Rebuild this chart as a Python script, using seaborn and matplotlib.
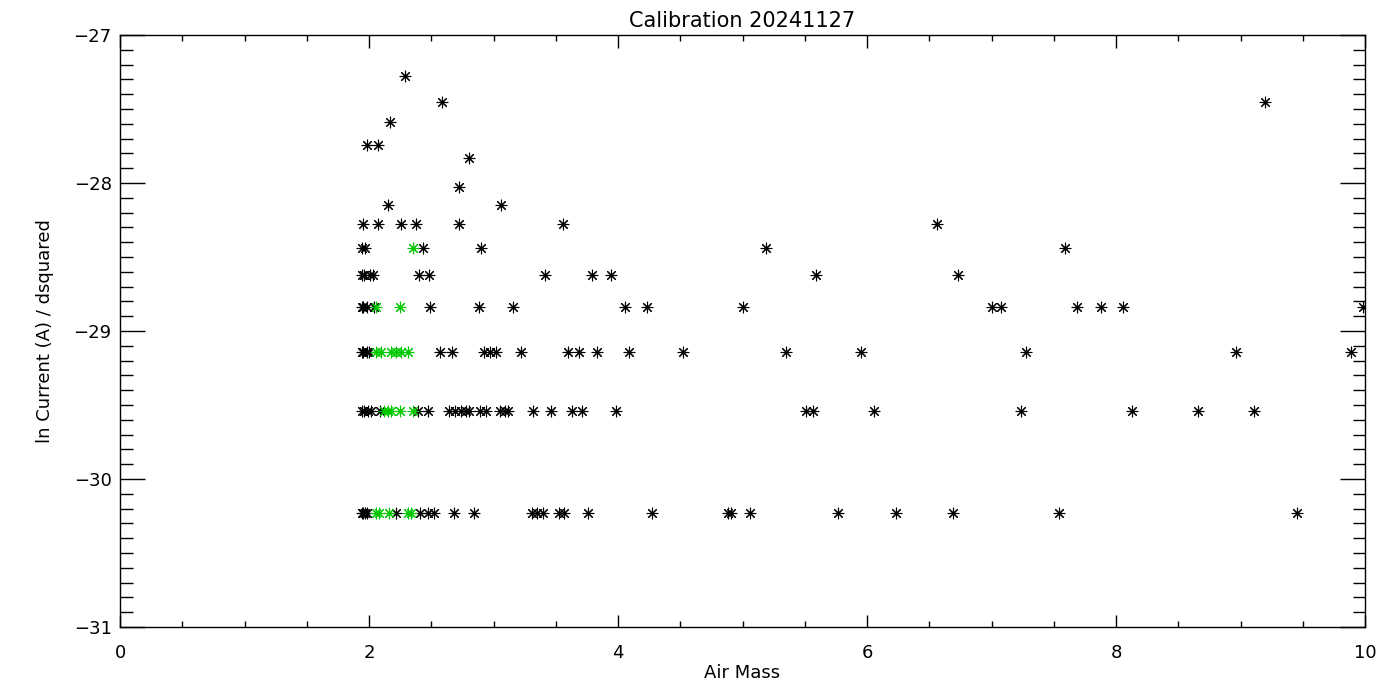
import numpy as np
import pandas as pd
import matplotlib
matplotlib.use("Agg")
import matplotlib.pyplot as plt
from matplotlib.ticker import MultipleLocator
import seaborn as sns

# ln current levels (values are quantised)
LEVELS = [-27.28, -27.45, -27.59, -27.74, -27.83, -28.03, -28.15, -28.28,
          -28.44, -28.62, -28.84, -29.14, -29.54, -30.23]

# black points: air mass per level (same order as LEVELS)
black_airmass = [
    [2.29],
    [2.59, 9.20],
    [2.17],
    [1.98, 2.07],
    [2.80],
    [2.72],
    [2.15, 3.06],
    [1.95, 2.07, 2.26, 2.38, 2.72, 3.56, 6.56],
    [1.94, 1.97, 2.43, 2.90, 5.19, 7.59],
    [1.94, 1.96, 2.01, 2.03, 2.40, 2.48, 3.41, 3.79, 3.94, 5.59, 6.73],
    [1.94, 1.95, 1.98, 2.04, 2.49, 2.88, 3.16, 4.06, 4.23, 5.00, 7.00, 7.08,
     7.69, 7.88, 8.06, 9.98],
    [1.94, 1.95, 1.98, 2.00, 2.57, 2.67, 2.92, 2.97, 3.02, 3.22, 3.60, 3.69,
     3.83, 4.09, 4.52, 5.35, 5.95, 7.28, 8.96, 9.89],
    [1.94, 1.96, 1.99, 2.02, 2.09, 2.39, 2.47, 2.64, 2.69, 2.74, 2.78, 2.80,
     2.89, 2.94, 3.05, 3.09, 3.12, 3.32, 3.46, 3.63, 3.71, 3.98, 5.51, 5.57,
     6.06, 7.24, 8.13, 8.66, 9.11],
    [1.94, 1.95, 1.97, 1.98, 2.22, 2.41, 2.47, 2.52, 2.68, 2.84, 3.31, 3.35,
     3.40, 3.53, 3.57, 3.76, 4.27, 4.88, 4.91, 5.06, 5.77, 6.23, 6.69, 7.54,
     9.45],
]

# green points: air mass per level
green_airmass = [
    [], [], [], [], [], [], [], [],
    [2.35],
    [],
    [2.06, 2.25],
    [2.06, 2.10, 2.18, 2.22, 2.26, 2.31],
    [2.12, 2.15, 2.18, 2.25, 2.35],
    [2.06, 2.08, 2.16, 2.31, 2.34],
]


def to_frame(airmass_by_level):
    rows = []
    for lvl, xs in zip(LEVELS, airmass_by_level):
        for x in xs:
            rows.append((x, lvl))
    return pd.DataFrame(rows, columns=["airmass", "lncur"])


df_black = to_frame(black_airmass)
df_green = to_frame(green_airmass)

sns.set_style("white")
plt.rcParams['font.family'] = ['DejaVu Sans']

fig = plt.figure(figsize=(14, 7), dpi=100)
ax = fig.add_axes([120 / 1400, 1 - 627 / 700, 1245 / 1400, 592 / 700])

star = (8, 2, 0)
sns.scatterplot(data=df_black, x="airmass", y="lncur", ax=ax, color="black",
                marker=star, s=60, linewidth=0.8)
sns.scatterplot(data=df_green, x="airmass", y="lncur", ax=ax, color="#00C800",
                marker=star, s=60, linewidth=0.8)

ax.set_xlim(0, 10)
ax.set_ylim(-31, -27)
ax.xaxis.set_major_locator(MultipleLocator(2))
ax.xaxis.set_minor_locator(MultipleLocator(0.5))
ax.yaxis.set_major_locator(MultipleLocator(1))
ax.yaxis.set_minor_locator(MultipleLocator(0.1))

for s in ax.spines.values():
    s.set_color("black")
    s.set_linewidth(1.0)

ax.tick_params(axis="both", which="both", direction="in",
               bottom=True, left=True, top=True, right=True,
               color="black", width=1.0, labelsize=13, labelcolor="black")
ax.tick_params(axis="x", which="major", length=9, pad=12)
ax.tick_params(axis="x", which="minor", length=4.5)
ax.tick_params(axis="y", which="major", length=18, pad=6)
ax.tick_params(axis="y", which="minor", length=9)

ax.set_xlabel("Air Mass", fontsize=13, color="black", labelpad=2)
ax.set_ylabel("ln Current (A) / dsquared", fontsize=13, color="black", labelpad=14)
ax.set_title("Calibration 20241127", fontsize=15, color="black", pad=6)

fig.savefig("out.png", dpi=100, facecolor="white")
